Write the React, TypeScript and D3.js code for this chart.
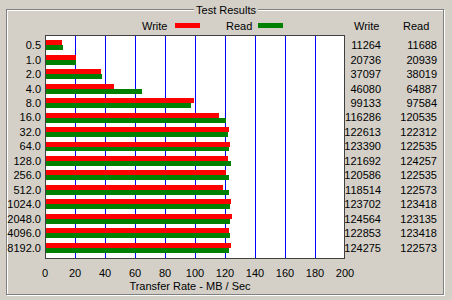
import React from "react";
import * as d3 from "d3";

const categories = ["0.5", "1.0", "2.0", "4.0", "8.0", "16.0", "32.0", "64.0", "128.0", "256.0", "512.0", "1024.0", "2048.0", "4096.0", "8192.0"];
const writeKB = [11264, 20736, 37097, 46080, 99133, 116286, 122613, 123390, 121692, 120586, 118514, 123702, 124564, 122853, 124275];
const readKB = [11688, 20939, 38019, 64887, 97584, 120535, 122312, 122535, 124257, 122535, 122573, 123418, 123135, 123418, 122573];
const xTicks = [0, 20, 40, 60, 80, 100, 120, 140, 160, 180, 200];

const W = 452;
const H = 300;
const plot = { left: 45, top: 35, right: 344, bottom: 258 };
const FONT = "'Liberation Sans', Arial, sans-serif";

export default function App() {
  const x = d3.scaleLinear().domain([0, 200]).range([45, 345]);
  const y = d3
    .scaleBand<string>()
    .domain(categories)
    .range([plot.top, plot.bottom])
    .paddingInner(0.31)
    .paddingOuter(0.35);
  const bh = y.bandwidth() / 2;
  const rowC = (c: string) => (y(c) as number) + y.bandwidth() / 2;
  return (
    <svg
      width={W}
      height={H}
      style={{ position: "fixed", left: 0, top: 0, fontFamily: FONT }}
      shapeRendering="crispEdges"
    >
      <rect x={0} y={0} width={W} height={H} fill="#d4d0c8" />
      {/* group box etched border */}
      <rect x={7.5} y={10.5} width={437} height={285} fill="none" stroke="#ffffff" />
      <rect x={6.5} y={9.5} width={437} height={285} fill="none" stroke="#808080" />
      <rect x={194} y={2} width={64} height={14} fill="#d4d0c8" />
      <text x={226} y={13.5} fontSize={11} textAnchor="middle" fill="#000">Test Results</text>

      {/* legend */}
      <text x={142} y={30} fontSize={11} fill="#000">Write</text>
      <rect x={175} y={23} width={25} height={5} fill="#ff0000" />
      <text x={226} y={30} fontSize={11} fill="#000">Read</text>
      <rect x={258} y={23} width={25} height={5} fill="#008000" />
      <text x={354} y={30} fontSize={11} fill="#000">Write</text>
      <text x={403} y={30} fontSize={11} fill="#000">Read</text>

      {/* plot area */}
      <rect x={plot.left} y={plot.top} width={plot.right - plot.left} height={plot.bottom - plot.top} fill="#ffffff" />
      {xTicks.slice(1, -1).map((t) => (
        <line key={t} x1={Math.round(x(t)) + 0.5} x2={Math.round(x(t)) + 0.5} y1={plot.top} y2={plot.bottom} stroke="#0000ff" />
      ))}
      {categories.map((c, i) => (
        <g key={c}>
          <rect x={plot.left + 1} y={y(c) as number} width={x(writeKB[i] / 1000) - plot.left - 1} height={bh} fill="#ff0000" />
          <rect x={plot.left + 1} y={(y(c) as number) + bh} width={x(readKB[i] / 1000) - plot.left - 1} height={bh} fill="#008000" />
          <text x={41} y={rowC(c)} dy="0.36em" fontSize={11} textAnchor="end" fill="#000">{c}</text>
          <text x={381} y={rowC(c)} dy="0.36em" fontSize={11} textAnchor="end" fill="#000">{writeKB[i]}</text>
          <text x={437} y={rowC(c)} dy="0.36em" fontSize={11} textAnchor="end" fill="#000">{readKB[i]}</text>
        </g>
      ))}
      <rect x={plot.left + 0.5} y={plot.top + 0.5} width={plot.right - plot.left} height={plot.bottom - plot.top} fill="none" stroke="#404040" />

      {xTicks.map((t) => (
        <text key={t} x={x(t)} y={277} fontSize={11} textAnchor="middle" fill="#000">{t}</text>
      ))}
      <text x={190} y={290} fontSize={11} textAnchor="middle" fill="#000">Transfer Rate - MB / Sec</text>
    </svg>
  );
}
